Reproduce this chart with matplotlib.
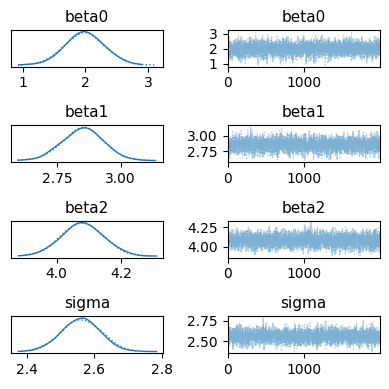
import numpy as np
import matplotlib
matplotlib.use("Agg")
import matplotlib.pyplot as plt

# posterior summaries (per parameter)
PARAMS = ["beta0", "beta1", "beta2", "sigma"]
MEANS = [2.0, 2.85, 4.08, 2.56]
SDS = [0.31, 0.078, 0.062, 0.056]
N_CHAINS = 2
N_DRAWS = 2000

# tick positions / labels as shown in the reference
KDE_TICKS = [[1, 2, 3], [2.75, 3.00], [4.0, 4.2], [2.4, 2.6, 2.8]]
KDE_LABELS = [["1", "2", "3"], ["2.75", "3.00"], ["4.0", "4.2"], ["2.4", "2.6", "2.8"]]
TRACE_TICKS = [[1, 2, 3], [2.75, 3.00], [4.00, 4.25], [2.50, 2.75]]
TRACE_LABELS = [["1", "2", "3"], ["2.75", "3.00"], ["4.00", "4.25"], ["2.50", "2.75"]]
TRACE_XTICKS = [0, 1000]

CHAIN_STYLES = ["-", ":"]


def make_draws(mean, sd, seed):
    """MCMC-like draws (2 chains) for one parameter."""
    rng = np.random.default_rng(seed)
    return mean + sd * rng.standard_normal((N_CHAINS, N_DRAWS))


def kde(x, grid, factor=1.6):
    """Gaussian KDE, Scott bandwidth widened a bit (arviz looks smoother)."""
    bw = factor * x.std() * len(x) ** (-1 / 5)
    z = (grid[:, None] - x[None, :]) / bw
    return np.exp(-0.5 * z ** 2).sum(axis=1) / (len(x) * bw * np.sqrt(2 * np.pi))


fig, axes = plt.subplots(4, 2, figsize=(3.89, 3.89), dpi=100)
fig.subplots_adjust(left=0.028, right=0.977, top=0.923, bottom=0.092,
                    wspace=0.42, hspace=1.6)

for i, name in enumerate(PARAMS):
    draws = make_draws(MEANS[i], SDS[i], seed=10 + i)
    ax_kde, ax_tr = axes[i]

    for c in range(N_CHAINS):
        x = draws[c]
        grid = np.linspace(x.min(), x.max(), 300)
        ax_kde.plot(grid, kde(x, grid), color="C0", lw=1.0, ls=CHAIN_STYLES[c])
        ax_tr.plot(np.arange(N_DRAWS), x, color="C0", lw=0.9, alpha=0.35,
                   ls=CHAIN_STYLES[c])

    ax_kde.set_title(name, fontsize=11)
    ax_kde.set_yticks([])
    ax_kde.set_xticks(KDE_TICKS[i])
    ax_kde.set_xticklabels(KDE_LABELS[i])
    ax_kde.tick_params(labelsize=10)

    ax_tr.set_title(name, fontsize=11)
    ax_tr.set_xlim(0, N_DRAWS - 1)
    ax_tr.set_xticks(TRACE_XTICKS)
    ax_tr.set_yticks(TRACE_TICKS[i])
    ax_tr.set_yticklabels(TRACE_LABELS[i])
    ax_tr.tick_params(labelsize=10)

fig.savefig("out.png", dpi=100)
